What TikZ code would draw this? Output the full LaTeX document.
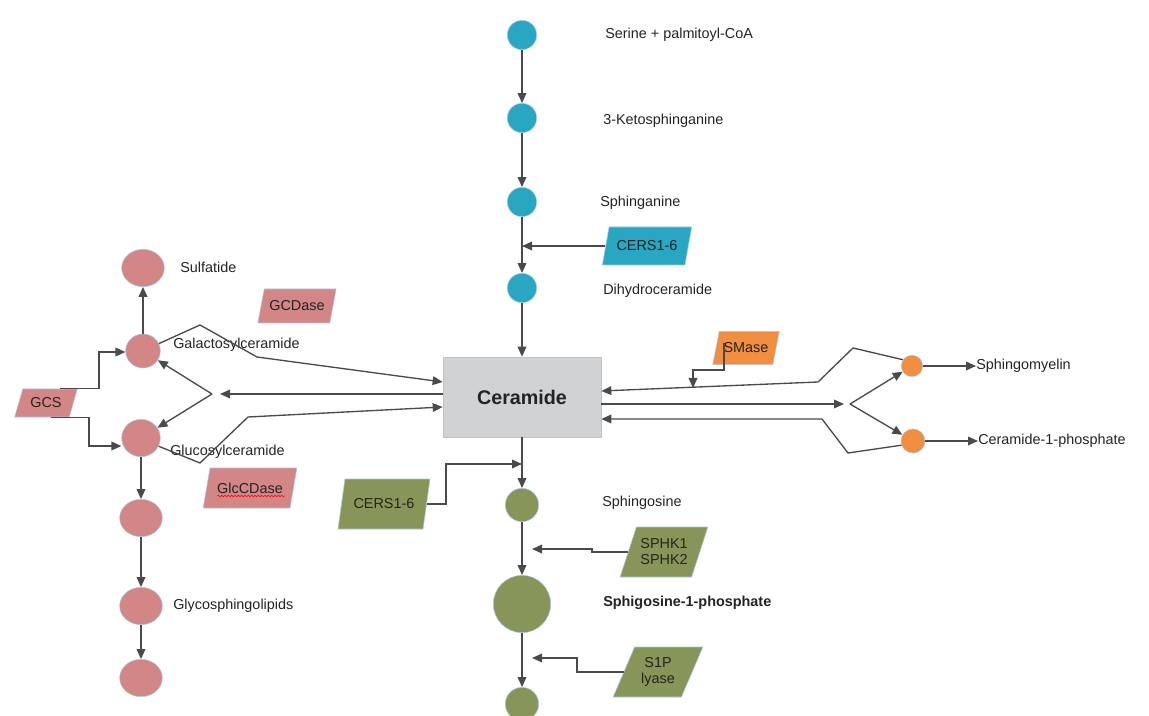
\documentclass[tikz,border=0pt]{standalone}
\usepackage{fontspec}
\setmainfont{Liberation Sans}
\usetikzlibrary{shapes.geometric,arrows.meta,decorations.pathmorphing}
\definecolor{tealc}{RGB}{41,166,194}
\definecolor{pinkc}{RGB}{210,134,134}
\definecolor{orangec}{RGB}{242,142,64}
\definecolor{olivec}{RGB}{136,149,88}
\definecolor{boxc}{RGB}{208,210,211}
\definecolor{edgec}{RGB}{168,200,226}
\definecolor{linec}{RGB}{74,74,74}
\definecolor{textc}{RGB}{35,35,35}
\tikzset{>={Triangle[length=7.5pt,width=6.5pt]},
  link/.style={draw=linec,line width=1pt},
  dot/.style={circle,draw=edgec,line width=0.4pt,inner sep=0pt},
  tealdot/.style={dot,fill=tealc,minimum size=22pt},
  greendot/.style={dot,fill=olivec,minimum size=25pt},
  orangedot/.style={dot,fill=orangec,minimum size=16pt},
  pinkdot/.style={ellipse,draw=edgec,line width=0.4pt,fill=pinkc,inner sep=0pt,minimum width=32pt,minimum height=28pt},
  enzyme/.style={trapezium,trapezium left angle=62,trapezium right angle=118,trapezium stretches=true,
    draw=edgec,line width=0.4pt,inner sep=0pt,align=center,text=textc,font=\fontsize{10.8}{12}\selectfont},
  lbl/.style={anchor=west,inner sep=0pt,text=textc,font=\fontsize{10.8}{12.5}\selectfont}}

\begin{document}
\begin{tikzpicture}[x=0.75pt,y=-0.75pt]
   \useasboundingbox (0,0) rectangle (1149,716);
   % synthesis column
   \node[tealdot] (ser)  at (522,35)  {};
   \node[tealdot] (keto) at (522,118) {};
   \node[tealdot] (sphn) at (522,202) {};
   \node[tealdot] (dhc)  at (522,288) {};
   \node[lbl] (serL)  at (605,35)  {Serine + palmitoyl-CoA};
   \node[lbl] (ketoL) at (603,121) {3-Ketosphinganine};
   \node[lbl] (sphnL) at (600,203) {Sphinganine};
   \node[lbl] (dhcL)  at (603,291) {Dihydroceramide};
   \node[enzyme,fill=tealc,minimum width=67pt,minimum height=28.5pt] (cersT) at (647,246) {CERS1-6};
   \node[rectangle,fill=boxc,draw=edgec,line width=0.5pt,minimum width=118.5pt,minimum height=60pt,
     font=\fontsize{14.8}{16}\selectfont\bfseries,text=textc] (cer) at (522,397) {Ceramide};
   % sphingomyelin side
   \node[enzyme,fill=orangec,minimum width=50pt,minimum height=25pt] (smase) at (746,348) {SMase};
   \node[orangedot] (sm) at (912,366) {};
   \node[orangedot,minimum size=18pt] (cp) at (913,441) {};
   \node[lbl] (smL) at (976,366) {Sphingomyelin};
   \node[lbl] (cpL) at (978,441) {Ceramide-1-phosphate};
   % sphingosine column
   \node[greendot] (sphs) at (522,505) {};
   \node[greendot,minimum size=43pt] (s1p) at (522,604) {};
   \node[greendot] (s1pEnd) at (522,704) {};
   \node[lbl] (sphsL) at (602,503) {Sphingosine};
   \node[lbl,font=\fontsize{10.8}{12.5}\selectfont\bfseries] (s1pL) at (603,603) {Sphigosine-1-phosphate};
   \node[enzyme,fill=olivec,minimum width=69pt,minimum height=37.5pt] (cersG) at (384,504) {CERS1-6};
   \node[enzyme,fill=olivec,minimum width=66pt,minimum height=37.5pt] (sphk) at (664,552) {SPHK1\\SPHK2};
   \node[enzyme,fill=olivec,minimum width=67.5pt,minimum height=37.5pt] (lyase) at (658,672) {S1P\\lyase};
   % glycosphingolipid column
   \node[pinkdot] (sulf) at (143,268) {};
   \node[pinkdot,minimum width=26pt,minimum height=25.5pt] (galc) at (143,351) {};
   \node[pinkdot,minimum width=29pt,minimum height=28pt] (gluc) at (141,438) {};
   \node[pinkdot] (gsA) at (141,518) {};
   \node[pinkdot] (gsl) at (141,606) {};
   \node[pinkdot] (gsB) at (141,678) {};
   \node[lbl] (sulfL) at (180,267) {Sulfatide};
   \node[lbl] (galcL) at (173,345) {Galactosylceramide};
   \node[lbl] (glucL) at (170,452) {Glucosylceramide};
   \node[lbl] (gslL)  at (173,606) {Glycosphingolipids};
   \node[enzyme,fill=pinkc,minimum width=47pt,minimum height=21pt] (gcs) at (46,403) {GCS};
   \node[enzyme,fill=pinkc,minimum width=59pt,minimum height=25.5pt] (gcd) at (297,306) {GCDase};
   \node[enzyme,fill=pinkc,minimum width=70.5pt,minimum height=30pt] (glcc) at (250,488) {GlcCDase};
   \draw[red,line width=0.4pt,decorate,decoration={snake,amplitude=0.6pt,segment length=2.5pt}]
     ([xshift=-24.5pt,yshift=-6pt]glcc.center) -- ([xshift=26pt,yshift=-6pt]glcc.center);
   % bend points
   \coordinate (smA) at (853,348);
   \coordinate (smB) at (818,382);
   \coordinate (cpA) at (848,453);
   \coordinate (cpB) at (822,419);
   \coordinate (rmid) at (844,404);
   \coordinate (rfork) at (850,404);
   \coordinate (smtip) at (693,388);
   \coordinate (gjoin) at (446,464);
   \coordinate (kA) at (592,549);
   \coordinate (lA) at (577,658);
   \coordinate (lmid) at (220,394);
   \coordinate (lfork) at (212,394);
   \coordinate (gaA) at (200,325);
   \coordinate (gaB) at (257,357);
   \coordinate (guA) at (200,463);
   \coordinate (guB) at (248,417);
   \coordinate (gA) at (99,352);
   \coordinate (gB) at (89,446);
   % connectors
   \draw[link,->] (ser) -- (keto);
   \draw[link,->] (keto) -- (sphn);
   \draw[link,->] (sphn) -- (dhc);
   \draw[link,->] (dhc) -- (cer);
   \draw[link,->] (cersT.west) -- (cersT.west -| dhc);
   \draw[link,->] (sm.145) -- (smA) -- (smB) -- ([yshift=4.5pt]cer.east);
   \draw[link,->] ([yshift=-5.25pt]cer.east) -- (rmid);
   \draw[link,->] (rfork) -- (sm);
   \draw[link,->] (rfork) -- (cp);
   \draw[link,->] (cp.200) -- (cpA) -- (cpB) -- ([yshift=-16.5pt]cer.east);
   \draw[link,->] ([xshift=-16.5pt,yshift=3.75pt]smase.center) |- ([yshift=13.5pt]smtip) -- (smtip);
   \draw[link,->] (sm) -- (smL.west);
   \draw[link,->] (cp) -- (cpL.west);
   \draw[link,->] (cer) -- (sphs);
   \draw[link,->] (cersG.east) -| (gjoin) -- (gjoin -| sphs);
   \draw[link,->] (sphs) -- (s1p);
   \draw[link,->] (sphk.west) -- (sphk.west -| kA) -- (kA) -- ([xshift=-45pt]kA);
   \draw[link,->] (s1p) -- (s1pEnd);
   \draw[link,->] (lyase.west) -- (lyase.west -| lA) -- (lA) -- ([xshift=-33.75pt]lA);
   \draw[link,->] (galc) -- (sulf);
   \draw[link,->] (gcs.north east) -| (gA) -- (gA -| galc.west);
   \draw[link,->] ([xshift=-7pt]gcs.south east) -| (gB) -- (gB -| gluc.west);
   \draw[link,->] ([yshift=2.25pt]cer.west) -- (lmid);
   \draw[link,->] (lfork) -- (galc);
   \draw[link,->] (lfork) -- (gluc);
   \draw[link,->] (galc.25) -- (gaA) -- (gaB) -- ([yshift=11.25pt]cer.west);
   \draw[link,->] (gluc.-25) -- (guA) -- (guB) -- ([yshift=-7.5pt]cer.west);
   \draw[link,->] (gluc) -- (gsA);
   \draw[link,->] (gsA) -- (gsl);
   \draw[link,->] (gsl) -- (gsB);
\end{tikzpicture}
\end{document}
